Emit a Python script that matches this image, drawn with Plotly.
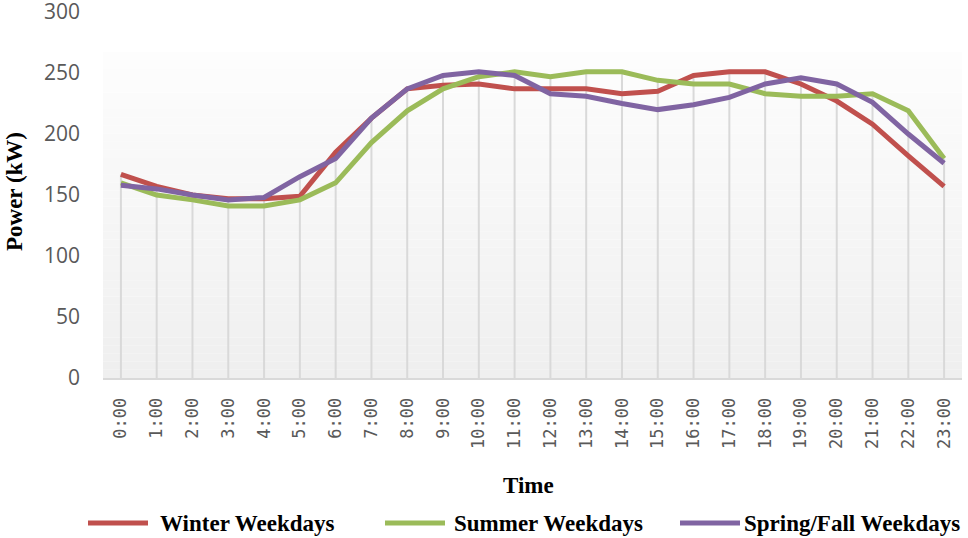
import plotly.graph_objects as go

# ---- data ----
hours = [f"{h}:00" for h in range(24)]
winter = [167, 157, 150, 147, 147, 149, 185, 213, 237, 240, 241, 237,
          237, 237, 233, 235, 248, 251, 251, 241, 227, 208, 182, 157]
summer = [160, 150, 146, 141, 141, 146, 160, 193, 219, 237, 247, 251,
          247, 251, 251, 244, 241, 241, 233, 231, 231, 233, 219, 180]
spring = [158, 155, 150, 146, 148, 165, 180, 213, 237, 248, 251, 248,
          233, 231, 225, 220, 224, 230, 241, 246, 241, 226, 200, 176]
series_names = ["Winter Weekdays", "Summer Weekdays", "Spring/Fall Weekdays"]
series_values = [winter, summer, spring]
series_colors = ["#C0504D", "#9BBB59", "#8064A2"]
y_ticks = [0, 50, 100, 150, 200, 250, 300]

W, H = 968, 538
ML, MR, MT, MB = 103, 6, 12, 160
PW, PH = W - ML - MR, H - MT - MB


def px_x(p):
    return (p - ML) / PW


def px_y(p):
    return (H - MB - p) / PH


fig = go.Figure()

# drop lines from each category's highest point down to the axis
drop_x, drop_y = [], []
for i, h in enumerate(hours):
    top = max(v[i] for v in series_values)
    drop_x += [h, h, None]
    drop_y += [0, top, None]
fig.add_trace(go.Scatter(x=drop_x, y=drop_y, mode="lines",
                         line=dict(color="#D9D9D9", width=2),
                         hoverinfo="skip", showlegend=False))

for name, vals, col in zip(series_names, series_values, series_colors):
    fig.add_trace(go.Scatter(x=hours, y=vals, mode="lines", name=name,
                             line=dict(color=col, width=5),
                             showlegend=False))

shapes = []
# plot-area gradient background (white at top to light grey at bottom)
n_bands = 40
top_paper = px_y(52)
for k in range(n_bands):
    y0 = top_paper * k / n_bands
    y1 = top_paper * (k + 1) / n_bands
    t = k / (n_bands - 1)
    c = int(round(239 + (253 - 239) * t))
    shapes.append(dict(type="rect", xref="paper", yref="paper",
                       x0=0, x1=1, y0=y0, y1=y1,
                       fillcolor=f"rgb({c},{c},{c})", line=dict(width=0),
                       layer="below"))

annotations = [
    dict(text="<b>Power (kW)</b>", xref="paper", yref="paper",
         x=px_x(14), y=px_y(192), textangle=-90, showarrow=False,
         xanchor="center", yanchor="middle",
         font=dict(family="Liberation Serif", size=23, color="#000000")),
    dict(text="<b>Time</b>", xref="paper", yref="paper",
         x=px_x(528), y=px_y(486), showarrow=False,
         xanchor="center", yanchor="middle",
         font=dict(family="Liberation Serif", size=23, color="#000000")),
]

# legend drawn manually
leg_line_x = [88, 385, 680]
leg_text_x = [158, 452, 742]
leg_y = 523
for name, col, lx, tx in zip(series_names, series_colors, leg_line_x, leg_text_x):
    shapes.append(dict(type="line", xref="paper", yref="paper",
                       x0=px_x(lx), x1=px_x(lx + 60), y0=px_y(leg_y), y1=px_y(leg_y),
                       line=dict(color=col, width=5)))
    annotations.append(dict(text=f"<b>{name}</b>", xref="paper", yref="paper",
                            x=px_x(tx), y=px_y(leg_y), showarrow=False,
                            xanchor="left", yanchor="middle",
                            font=dict(family="Liberation Serif", size=23,
                                      color="#000000")))

fig.update_layout(
    width=W, height=H,
    margin=dict(l=ML, r=MR, t=MT, b=MB, autoexpand=False),
    paper_bgcolor="#FFFFFF", plot_bgcolor="#FFFFFF",
    showlegend=False,
    shapes=shapes, annotations=annotations,
    xaxis=dict(type="category", categoryorder="array", categoryarray=hours,
               range=[-0.5, 23.5], showgrid=False, zeroline=False,
               showline=True, linecolor="#D9D9D9", linewidth=2,
               ticks="", tickangle=-90, ticklabelstandoff=11,
               tickfont=dict(family="DejaVu Sans Mono", size=17, color="#595959")),
    yaxis=dict(range=[0, 300], tickvals=y_ticks, showgrid=False,
               zeroline=False, showline=False, ticks="",
               ticklabelstandoff=22, ticklabeloverflow="allow",
               tickfont=dict(family="Open Sans", size=21, color="#595959")),
)

fig.write_html("out.html",
               config={"displayModeBar": False},
               post_script="document.body.style.margin='0px';"
                           "document.body.style.overflow='hidden';")
